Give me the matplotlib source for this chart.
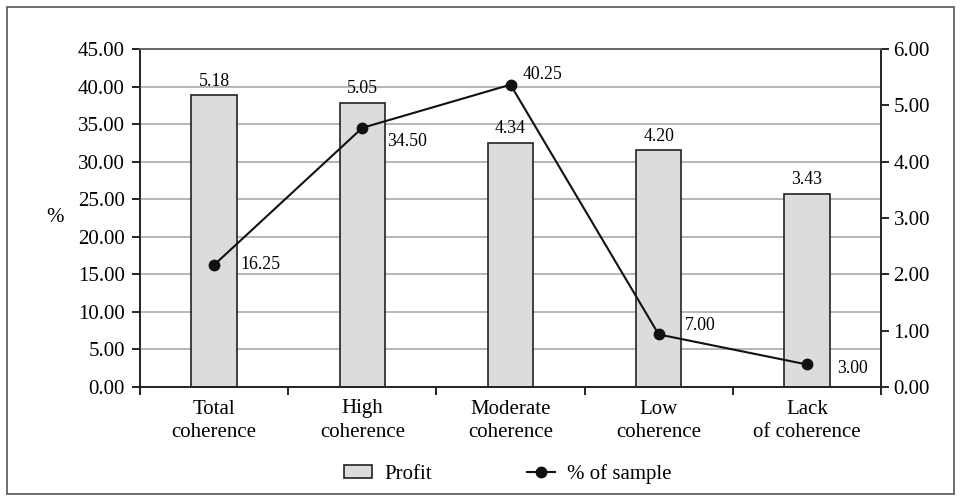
import matplotlib.pyplot as plt
import numpy as np
from matplotlib.patches import Rectangle

plt.rcParams['font.family'] = ['Liberation Serif', 'DejaVu Serif']

categories = ["Total\ncoherence", "High\ncoherence", "Moderate\ncoherence", "Low\ncoherence", "Lack\nof coherence"]
profit = [5.18, 5.05, 4.34, 4.20, 3.43]
sample_pct = [16.25, 34.50, 40.25, 7.00, 3.00]

fig = plt.figure(figsize=(9.61, 5.01), dpi=100)
W, H = 961, 501
fig.patches.append(Rectangle((7 / W, 1 - 494 / H), (954 - 7) / W, (494 - 7) / H,
                             transform=fig.transFigure, fill=False,
                             edgecolor='#555555', linewidth=1.2))

ax = fig.add_axes([140 / W, 1 - 387 / H, (881 - 140) / W, (387 - 49) / H])
ax2 = ax.twinx()

x = np.arange(len(categories))

# bars use the right axis
ax2.bar(x, profit, width=0.305, color='#dcdcdc', edgecolor='#222222', linewidth=1.2,
        label='Profit', zorder=2)
for xi, v in zip(x, profit):
    ax2.annotate(f"{v:.2f}", (xi, v), xytext=(0, 4), textcoords='offset points',
                 ha='center', va='bottom', fontsize=12.8)
ax2.set_ylim(0, 6)
ax2.set_yticks(np.arange(0, 6.01, 1))
ax2.set_yticklabels([f"{v:.2f}" for v in np.arange(0, 6.01, 1)], fontsize=15)

# line uses the left axis, drawn on top
ax.set_zorder(ax2.get_zorder() + 1)
ax.patch.set_visible(False)
ax.plot(x, sample_pct, color='#111111', marker='o', markersize=7.5, linewidth=1.5,
        label='% of sample', zorder=3)
offsets = [(19, 0), (18, -10), (9, 7), (19, 6.5), (21.5, -3)]
for xi, v, (dx, dy) in zip(x, sample_pct, offsets):
    ax.annotate(f"{v:.2f}", (xi, v), xytext=(dx, dy), textcoords='offset points',
                ha='left', va='center', fontsize=12.8)
ax.set_ylim(0, 45)
ax.set_yticks(np.arange(0, 45.01, 5))
ax.set_yticklabels([f"{v:.2f}" for v in np.arange(0, 45.01, 5)], fontsize=15)
ax.set_xlim(-0.5, 4.5)
fig.text(55 / W, 1 - 217 / H, '%', fontsize=15, ha='center', va='center')

# gridlines drawn on the bar axis so they sit behind bars
for g in np.arange(5, 45.01, 5):
    ax2.axhline(g / 45 * 6, color='#aaaaaa', linewidth=1.2, zorder=1)

ax.set_xticks(np.arange(-0.5, 4.51, 1))
ax.set_xticklabels([])
ax.set_xticks(x, minor=True)
ax.set_xticklabels(categories, minor=True, fontsize=15, linespacing=1.3)
ax.tick_params(axis='x', which='minor', length=0, pad=9)
ax.tick_params(axis='x', which='major', length=6, width=1.2, direction='out')
ax.tick_params(axis='y', length=6, width=1.2, direction='out', pad=5)
ax2.tick_params(axis='y', length=6, width=1.2, direction='out', pad=3)

for a in (ax, ax2):
    for s in ('left', 'right', 'bottom'):
        a.spines[s].set_linewidth(1.2)
        a.spines[s].set_color('#222222')
    a.spines['top'].set_color('#666666')
    a.spines['top'].set_linewidth(1.2)

h1, l1 = ax2.get_legend_handles_labels()
h2, l2 = ax.get_legend_handles_labels()
fig.legend(h1 + h2, l1 + l2, loc='center', bbox_to_anchor=(508 / W, 1 - 474 / H), ncol=2,
           frameon=False, fontsize=15, columnspacing=4.6, handlelength=1.3,
           handletextpad=0.6, handleheight=0.6)

fig.savefig('out.png', dpi=100)
